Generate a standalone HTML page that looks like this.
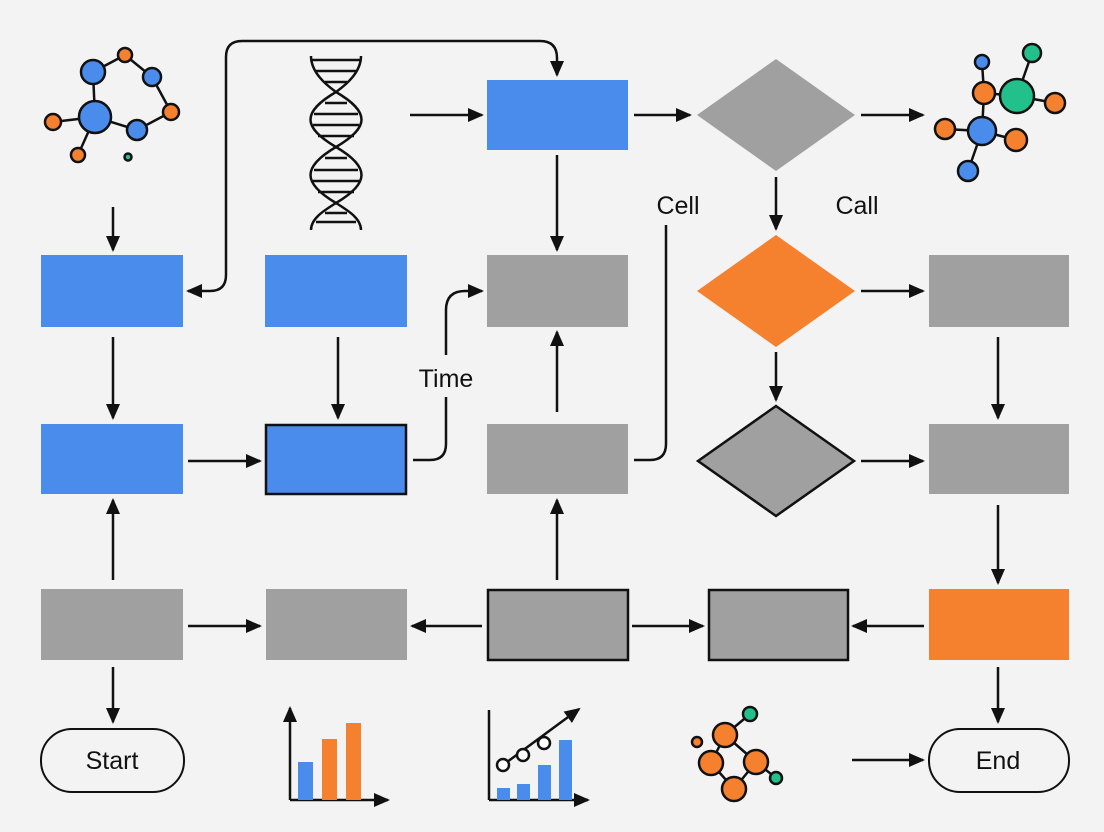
<!DOCTYPE html>
<html><head><meta charset="utf-8"><style>
html,body{margin:0;padding:0;background:#f3f3f3;}
svg{display:block}
text{font-family:"Liberation Sans",sans-serif;font-size:25px;fill:#111}
</style></head><body>
<svg width="1104" height="832" viewBox="0 0 1104 832" xmlns="http://www.w3.org/2000/svg">
<defs>
<marker id="a" markerWidth="16" markerHeight="16" refX="14" refY="8" orient="auto" markerUnits="userSpaceOnUse" viewBox="0 0 16 16">
<path d="M0,1 L16,8 L0,15 z" fill="#111"/></marker>
</defs>
<rect width="1104" height="832" fill="#f3f3f3"/>
<g fill="none" stroke="#111" stroke-width="2.5">
<path d="M93,72L125,55L152,77L171,112L137,130L95,117L93,72M95,117L53,122M95,117L78,155"/>
</g>
<g stroke="#111" stroke-width="2.5">
<circle cx="95" cy="117" r="16" fill="#4a8cec"/><circle cx="93" cy="72" r="12" fill="#4a8cec"/>
<circle cx="125" cy="55" r="7" fill="#f5812f"/><circle cx="152" cy="77" r="9" fill="#4a8cec"/>
<circle cx="171" cy="112" r="8" fill="#f5812f"/><circle cx="137" cy="130" r="10" fill="#4a8cec"/>
<circle cx="53" cy="122" r="8" fill="#f5812f"/><circle cx="78" cy="155" r="7" fill="#f5812f"/>
<circle cx="128" cy="157" r="3.5" fill="#2fb89a"/>
</g>
<g fill="none" stroke="#111" stroke-width="2.5"><path d="M982,62L984,93L1017,96L1032,53M1017,96L1055,103M984,93L982,131L945,129M982,131L1016,140M982,131L968,171"/></g>
<g stroke="#111" stroke-width="2.5">
<circle cx="1032" cy="53" r="9" fill="#22c08a"/><circle cx="982" cy="62" r="7" fill="#4a8cec"/>
<circle cx="984" cy="93" r="11" fill="#f5812f"/><circle cx="1017" cy="96" r="17" fill="#22c08a"/>
<circle cx="1055" cy="103" r="10" fill="#f5812f"/><circle cx="982" cy="131" r="14" fill="#4a8cec"/>
<circle cx="945" cy="129" r="10" fill="#f5812f"/><circle cx="1016" cy="140" r="11" fill="#f5812f"/>
<circle cx="968" cy="171" r="10" fill="#4a8cec"/>
</g>
<g fill="none" stroke="#111" stroke-width="2.5">
<path d="M311,56C311,72 325,84 336,92C370,112 370,127 336,147C302,167 302,183 336,203C347,210 361,218 361,230"/>
<path d="M361,56C361,72 347,84 336,92C302,112 302,127 336,147C370,167 370,183 336,203C325,210 311,218 311,230"/>
<path d="M312,60H360M316,71H356M325,82H347M325,103H347M314,114H358M313,125H359M318,136H354M325,158H347M314,170H358M313,181H359M318,192H354M325,213H347M316,222H356"/>
</g>
<g stroke="#111" stroke-width="2.5">
<rect x="487" y="80" width="141" height="70" fill="#4a8cec" stroke="none"/>
<polygon points="697,115 776,59 855,115 776,171" fill="#a0a0a0" stroke="none"/>
<rect x="41" y="255" width="142" height="72" fill="#4a8cec" stroke="none"/>
<rect x="265" y="255" width="142" height="72" fill="#4a8cec" stroke="none"/>
<rect x="487" y="255" width="141" height="72" fill="#a0a0a0" stroke="none"/>
<polygon points="697,291 776,235 855,291 776,347" fill="#f5812f" stroke="none"/>
<rect x="929" y="255" width="140" height="72" fill="#a0a0a0" stroke="none"/>
<rect x="41" y="424" width="142" height="70" fill="#4a8cec" stroke="none"/>
<rect x="266" y="425" width="140" height="69" fill="#4a8cec"/>
<rect x="487" y="424" width="141" height="70" fill="#a0a0a0" stroke="none"/>
<polygon points="698,461 776,406 854,461 776,516" fill="#a0a0a0"/>
<rect x="929" y="424" width="140" height="70" fill="#a0a0a0" stroke="none"/>
<rect x="41" y="589" width="142" height="71" fill="#a0a0a0" stroke="none"/>
<rect x="266" y="589" width="141" height="71" fill="#a0a0a0" stroke="none"/>
<rect x="488" y="590" width="140" height="70" fill="#a0a0a0"/>
<rect x="709" y="590" width="139" height="70" fill="#a0a0a0"/>
<rect x="929" y="589" width="140" height="71" fill="#f5812f" stroke="none"/>
<rect x="41" y="729" width="143" height="63" rx="31" fill="none" stroke-width="2"/>
<rect x="929" y="729" width="140" height="63" rx="31" fill="none" stroke-width="2"/>
</g>
<text x="112" y="769" text-anchor="middle">Start</text>
<text x="998" y="769" text-anchor="middle">End</text>
<text x="678" y="214" text-anchor="middle">Cell</text>
<text x="857" y="214" text-anchor="middle">Call</text>
<text x="446" y="387" text-anchor="middle">Time</text>
<g fill="none" stroke="#111" stroke-width="2.5" marker-end="url(#a)">
<path d="M113,207V250"/><path d="M113,337V418"/><path d="M113,580V500"/><path d="M113,667V722"/>
<path d="M338,337V418"/><path d="M188,461H260"/><path d="M188,626H260"/><path d="M482,626H412"/>
<path d="M632,626H703"/><path d="M924,626H853"/><path d="M557,580V500"/><path d="M557,412V332"/>
<path d="M557,155V250"/><path d="M410,115H482"/><path d="M634,115H690"/><path d="M861,115H923"/>
<path d="M776,177V229"/><path d="M776,352V400"/><path d="M861,291H923"/><path d="M861,461H923"/>
<path d="M998,337V418"/><path d="M998,505V583"/><path d="M998,667V722"/><path d="M852,760H923"/>
<path d="M540,41Q557,41 557,58V75"/>
<path d="M540,41H242Q226,41 226,57V275Q226,291 210,291H188"/>
<path d="M446,355V310Q446,291 465,291H482"/>
</g>
<g fill="none" stroke="#111" stroke-width="2.5">
<path d="M413,460H430Q446,460 446,444V397"/>
<path d="M634,460H650Q666,460 666,444V225"/>
</g>
<g fill="none" stroke="#111" stroke-width="2.5" marker-end="url(#a)">
<path d="M290,800V708"/><path d="M290,800H388"/>
<path d="M489,800H588"/><path d="M503,765L579,709"/>
</g>
<path d="M489,800V710" stroke="#111" stroke-width="2.5"/>
<rect x="298" y="762" width="15" height="38" fill="#4a8cec"/>
<rect x="322" y="739" width="15" height="61" fill="#f5812f"/>
<rect x="346" y="723" width="15" height="77" fill="#f5812f"/>
<rect x="497" y="788" width="13" height="12" fill="#4a8cec"/>
<rect x="517" y="784" width="13" height="16" fill="#4a8cec"/>
<rect x="538" y="765" width="13" height="35" fill="#4a8cec"/>
<rect x="559" y="740" width="13" height="60" fill="#4a8cec"/>
<g stroke="#111" stroke-width="2.5" fill="#fff">
<circle cx="503" cy="765" r="6"/><circle cx="523" cy="755" r="6"/><circle cx="544" cy="743" r="6"/>
</g>
<g fill="none" stroke="#111" stroke-width="2.5"><path d="M725,735L750,714M725,735L711,763M725,735L756,762M711,763L734,789L756,762L776,778"/></g>
<g stroke="#111" stroke-width="2.5">
<circle cx="697" cy="742" r="5" fill="#f5812f"/><circle cx="750" cy="714" r="7" fill="#22c08a"/>
<circle cx="725" cy="735" r="12" fill="#f5812f"/><circle cx="711" cy="763" r="12" fill="#f5812f"/>
<circle cx="756" cy="762" r="12" fill="#f5812f"/><circle cx="734" cy="789" r="12" fill="#f5812f"/>
<circle cx="776" cy="778" r="6" fill="#22c08a"/>
</g>
</svg>
</body></html>
